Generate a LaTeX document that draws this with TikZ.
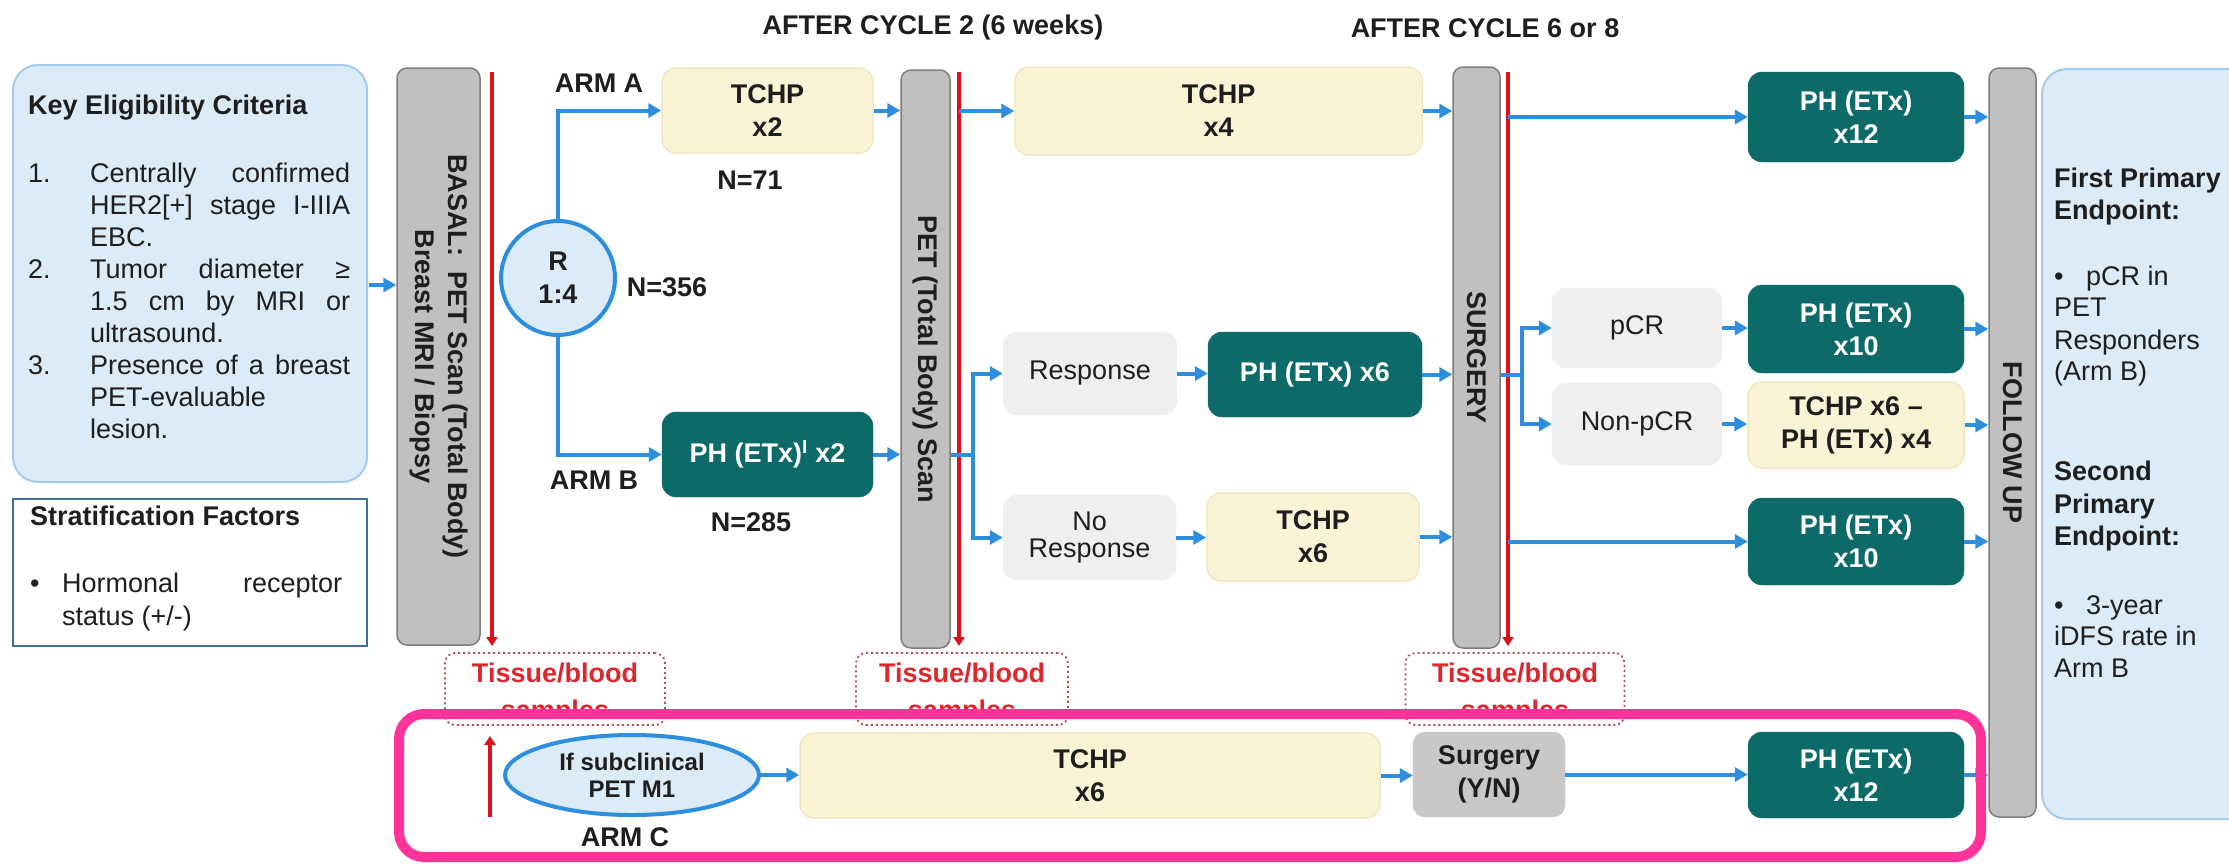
\documentclass[tikz,border=0pt]{standalone}
\usepackage{fontspec}
\setmainfont{Liberation Sans}
\usetikzlibrary{arrows.meta,shapes.geometric}

\definecolor{teal1}{RGB}{12,106,104}
\definecolor{cream}{RGB}{251,243,214}
\definecolor{creamb}{RGB}{241,230,192}
\definecolor{lgray}{RGB}{239,239,239}
\definecolor{bargray}{RGB}{192,192,192}
\definecolor{bardark}{RGB}{125,125,125}
\definecolor{ablue}{RGB}{45,142,222}
\definecolor{rline}{RGB}{222,16,24}
\definecolor{pbl}{RGB}{220,235,248}
\definecolor{pblb}{RGB}{165,203,236}
\definecolor{stratb}{RGB}{65,110,150}
\definecolor{pinkf}{RGB}{255,51,153}
\definecolor{tred}{RGB}{220,40,45}
\definecolor{ygray}{RGB}{200,200,200}
\definecolor{txt}{RGB}{30,30,30}

\newcommand{\myfs}{\fontsize{27}{33}\selectfont}

\begin{document}
\begin{tikzpicture}[x=1pt,y=-1pt,
 every node/.style={font=\myfs, text=txt, inner sep=0pt},
 tealbox/.style={rectangle, rounded corners=14pt, fill=teal1, draw=teal1, text=white, font=\myfs\bfseries, align=center},
 creambox/.style={rectangle, rounded corners=14pt, fill=cream, draw=creamb, line width=1.5pt, font=\myfs\bfseries, align=center},
 graybox/.style={rectangle, rounded corners=14pt, fill=lgray, draw=lgray, align=center},
 barbox/.style={rectangle, rounded corners=10pt, fill=bargray, draw=bardark, line width=1.5pt},
 bartext/.style={rotate=-90, font=\myfs\bfseries, align=center},
 barrow/.style={draw=ablue, line width=4pt, -{Triangle[length=13pt,width=14pt]}},
 bline/.style={draw=ablue, line width=4pt},
 rarrow/.style={draw=rline, line width=4pt, -{Triangle[length=9pt,width=11pt]}},
 lbl/.style={font=\myfs\bfseries},
 tissuebox/.style={rectangle, rounded corners=10pt, draw=tred!60!gray, dash pattern=on 2pt off 3pt, line width=1.8pt},
 tissuetext/.style={font=\myfs\bfseries, text=tred},
]
\path[use as bounding box, clip] (0,0) rectangle (2229,863);

% ---------- left panel ----------
\node[rectangle, rounded corners=25pt, fill=pbl, draw=pblb, line width=2pt, minimum width=354pt, minimum height=417pt] (key) at (190,273.5) {};
\node[lbl, anchor=mid west] (keyt) at (28,112) {Key Eligibility Criteria};
\node[anchor=mid west] (k1n) at (28,180) {1.};
\node[anchor=mid west] (k1a) at (90,180) {\makebox[260pt][s]{Centrally confirmed}};
\node[anchor=mid west] (k1b) at (90,212) {\makebox[260pt][s]{HER2[+] stage I-IIIA}};
\node[anchor=mid west] (k1c) at (90,244) {EBC.};
\node[anchor=mid west] (k2n) at (28,276) {2.};
\node[anchor=mid west] (k2a) at (90,276) {\makebox[260pt][s]{Tumor diameter ≥}};
\node[anchor=mid west] (k2b) at (90,308) {\makebox[260pt][s]{1.5 cm by MRI or}};
\node[anchor=mid west] (k2c) at (90,340) {ultrasound.};
\node[anchor=mid west] (k3n) at (28,372) {3.};
\node[anchor=mid west] (k3a) at (90,372) {\makebox[260pt][s]{Presence of a breast}};
\node[anchor=mid west] (k3b) at (90,404) {PET-evaluable};
\node[anchor=mid west] (k3c) at (90,436) {lesion.};

\node[rectangle, draw=stratb, line width=2pt, fill=white, minimum width=354pt, minimum height=147pt] (strat) at (190,572.5) {};
\node[lbl, anchor=mid west] (stratt) at (30,523) {Stratification Factors};
\node[anchor=mid west] (s1b) at (30,590) {•};
\node[anchor=mid west] (s1a) at (62,590) {\makebox[280pt][s]{Hormonal receptor}};
\node[anchor=mid west] (s1c) at (62,623) {status (+/-)};

% ---------- headers ----------
\node[lbl] (h1) at (933,28) {AFTER CYCLE 2 (6 weeks)};
\node[lbl] (h2) at (1485,28) {AFTER CYCLE 6 or 8};

% ---------- bars ----------
\node[barbox, minimum width=83pt, minimum height=577pt] (basal) at (438.5,356.5) {};
\node[bartext] (basalt) at (basal.center) {BASAL:\ \ PET Scan (Total Body)\\Breast MRI / Biopsy};
\node[barbox, minimum width=49pt, minimum height=578pt] (pet) at (925.5,359) {};
\node[bartext] (pett) at (pet.center) {PET (Total Body) Scan};
\node[barbox, minimum width=47pt, minimum height=581pt] (surg) at (1476.5,357.5) {};
\node[bartext] (surgt) at (surg.center) {SURGERY};
\node[barbox, minimum width=47pt, minimum height=749pt] (fu) at (2012.5,442.5) {};
\node[bartext] (fut) at (fu.center) {FOLLOW UP};

% red lines
\coordinate (r1top) at (492,72);  \coordinate (r1bot) at (492,646);
\coordinate (r2top) at (959,72);  \coordinate (r2bot) at (959,646);
\coordinate (r3top) at (1508,72); \coordinate (r3bot) at (1508,646);
\draw[rarrow] (r1top) -- (r1bot);
\draw[rarrow] (r2top) -- (r2bot);
\draw[rarrow] (r3top) -- (r3bot);

% ---------- randomisation ----------
\coordinate (keyarr) at (369,285);
\draw[barrow] (keyarr) -- (keyarr -| basal.west);
\node[circle, fill=pbl, draw=ablue, line width=4pt, minimum size=114pt, font=\myfs\bfseries, align=center] (R) at (558,278) {R\\1:4};
\node[lbl] (n356) at (667,287) {N=356};
\node[creambox, minimum width=211pt, minimum height=85pt] (tchp2) at (767.5,110.5) {TCHP\\x2};
\node[tealbox, minimum width=211pt, minimum height=85pt] (ph2) at (767.5,454.5) {PH (ETx)\textsuperscript{I} x2};
\node[lbl] (n71) at (750,180) {N=71};
\node[lbl] (n285) at (751,522) {N=285};
\node[lbl] (armA) at (599,83) {ARM A};
\node[lbl] (armB) at (594,480) {ARM B};
\draw[barrow] (R.north) |- (tchp2.west);
\draw[barrow] (R.south) |- (ph2.west);
\draw[barrow] (tchp2.east) -- (tchp2.east -| pet.west);
\draw[barrow] (ph2.east) -- (ph2.east -| pet.west);

% ---------- after cycle 2 ----------
\node[creambox, minimum width=407pt, minimum height=88pt] (tchp4) at (1218.5,111) {TCHP\\x4};
\draw[barrow] (r2top |- tchp4.west) -- (tchp4.west);
\draw[barrow] (tchp4.east) -- (tchp4.east -| surg.west);

\node[graybox, minimum width=174pt, minimum height=83pt] (resp) at (1090,373.5) {Response};
\node[tealbox, minimum width=214pt, minimum height=85pt] (ph6) at (1315,374.5) {PH (ETx) x6};
\node[graybox, minimum width=173pt, minimum height=85pt] (noresp) at (1089.5,537.5) {No\\[-6pt]Response};
\node[creambox, minimum width=212pt, minimum height=88pt] (tchp6b) at (1313,537) {TCHP\\x6};
\coordinate (br1) at (973,454.5);
\draw[bline] (ph2.east -| pet.east) -- (br1);
\draw[barrow] (br1) |- (resp.west);
\draw[barrow] (br1) |- (noresp.west);
\draw[barrow] (resp.east) -- (resp.east -| ph6.west);
\draw[barrow] (noresp.east) -- (noresp.east -| tchp6b.west);
\draw[barrow] (ph6.east) -- (ph6.east -| surg.west);
\draw[barrow] (tchp6b.east) -- (tchp6b.east -| surg.west);

% ---------- after surgery ----------
\node[tealbox, minimum width=216pt, minimum height=90pt] (ph12) at (1856,117) {PH (ETx)\\x12};
\node[graybox, minimum width=170pt, minimum height=80pt] (pcr) at (1637,328) {pCR};
\node[graybox, minimum width=170pt, minimum height=82pt] (npcr) at (1637,424) {Non-pCR};
\node[tealbox, minimum width=216pt, minimum height=88pt] (ph10a) at (1856,329) {PH (ETx)\\x10};
\node[creambox, minimum width=216pt, minimum height=86pt] (tchpph) at (1856,425) {TCHP x6 –\\PH (ETx) x4};
\node[tealbox, minimum width=216pt, minimum height=87pt] (ph10b) at (1856,541.5) {PH (ETx)\\x10};
\draw[barrow] (r3top |- ph12.west) -- (ph12.west);
\coordinate (br2) at (1522,374.5);
\draw[bline] (ph6.east -| surg.east) -- (br2);
\draw[barrow] (br2) |- (pcr.west);
\draw[barrow] (br2) |- (npcr.west);
\draw[barrow] (pcr.east) -- (pcr.east -| ph10a.west);
\draw[barrow] (npcr.east) -- (npcr.east -| tchpph.west);
\draw[barrow] (r3top |- ph10b.west) -- (ph10b.west);
\draw[barrow] (ph12.east) -- (ph12.east -| fu.west);
\draw[barrow] (ph10a.east) -- (ph10a.east -| fu.west);
\draw[barrow] (tchpph.east) -- (tchpph.east -| fu.west);
\draw[barrow] (ph10b.east) -- (ph10b.east -| fu.west);

% ---------- endpoints ----------
\node[rectangle, rounded corners=25pt, fill=pbl, draw=pblb, line width=2pt, minimum width=230pt, minimum height=750pt, anchor=north west] (endp) at (2041,68) {};
\node[lbl, anchor=mid west] (e1) at (2054,185) {First Primary};
\node[lbl, anchor=mid west] (e2) at (2054,217) {Endpoint:};
\node[anchor=mid west] (e3b) at (2054,283) {•};
\node[anchor=mid west] (e3) at (2086,283) {pCR in};
\node[anchor=mid west] (e4) at (2054,314) {PET};
\node[anchor=mid west] (e5) at (2054,347) {Responders};
\node[anchor=mid west] (e6) at (2054,378) {(Arm B)};
\node[lbl, anchor=mid west] (e7) at (2054,478) {Second};
\node[lbl, anchor=mid west] (e8) at (2054,511) {Primary};
\node[lbl, anchor=mid west] (e9) at (2054,543) {Endpoint:};
\node[anchor=mid west] (e10b) at (2054,612) {•};
\node[anchor=mid west] (e10) at (2086,612) {3-year};
\node[anchor=mid west] (e11) at (2054,643) {iDFS rate in};
\node[anchor=mid west] (e12) at (2054,675) {Arm B};

% ---------- tissue samples ----------
\node[tissuetext] (tis1t) at (555,673) {Tissue/blood};
\node[tissuetext] (tis1s) at (555,713) {samples};
\node[tissuetext] (tis2t) at (962,673) {Tissue/blood};
\node[tissuetext] (tis2s) at (962,713) {samples};
\node[tissuetext] (tis3t) at (1515,673) {Tissue/blood};
\node[tissuetext] (tis3s) at (1515,713) {samples};

\fill[white, rounded corners=25pt] (399,712) rectangle (1981,857);

\node[tissuebox, minimum width=220pt, minimum height=72pt] (tis1) at (555,689) {};
\node[tissuebox, minimum width=212pt, minimum height=72pt] (tis2) at (962,689) {};
\node[tissuebox, minimum width=219pt, minimum height=72pt] (tis3) at (1515,689) {};

% ---------- arm C ----------
\coordinate (cup1) at (490,817); \coordinate (cup2) at (490,736);
\draw[rarrow] (cup1) -- (cup2);
\node[ellipse, fill=pbl, draw=ablue, line width=4pt, minimum width=254pt, minimum height=80pt, font=\fontsize{24}{27}\selectfont\bfseries, align=center] (ell) at (632,775) {If subclinical\\PET M1};
\node[lbl] (armC) at (625,837) {ARM C};
\node[creambox, minimum width=580pt, minimum height=85pt] (tchp6c) at (1090,775.5) {TCHP\\x6};
\node[rectangle, rounded corners=12pt, fill=ygray, draw=ygray, minimum width=152pt, minimum height=85pt, font=\myfs\bfseries, align=center] (syn) at (1489,774.5) {Surgery\\(Y/N)};
\node[tealbox, minimum width=216pt, minimum height=86pt] (ph12c) at (1856,775) {PH (ETx)\\x12};
\draw[barrow] (ell.east) -- (ell.east -| tchp6c.west);
\draw[barrow] (tchp6c.east) -- (tchp6c.east -| syn.west);
\draw[barrow] (syn.east) -- (syn.east -| ph12c.west);
\draw[barrow] (ph12c.east) -- (ph12c.east -| fu.west);

\draw[pinkf, line width=10pt, rounded corners=25pt] (399,714) rectangle (1981,857);
\end{tikzpicture}
\end{document}
